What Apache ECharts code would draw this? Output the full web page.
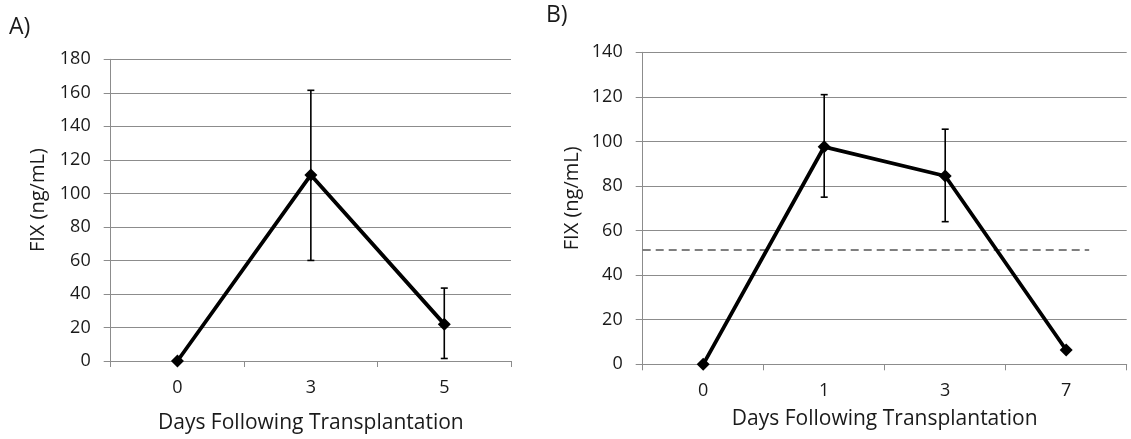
<!DOCTYPE html>
<html>
<head>
<meta charset="utf-8">
<script src="https://cdn.jsdelivr.net/npm/echarts@6/dist/echarts.min.js"></script>
<style>
  html, body { margin: 0; padding: 0; background: #fff; }
  #chart { width: 1131px; height: 439px; }
</style>
</head>
<body>
<div id="chart"></div>
<script>
// Panel A
const daysA = ["0", "3", "5"];
const fixA = [0, 111, 22];
const errLowA = [null, 60, 1.5];
const errHighA = [null, 161.5, 43.5];
const ticksA = { min: 0, max: 180, interval: 20 };

// Panel B
const daysB = ["0", "1", "3", "7"];
const fixB = [0, 97.6, 84.5, 6.4];
const errLowB = [null, 75, 64, null];
const errHighB = [null, 121, 105.5, null];
const ticksB = { min: 0, max: 140, interval: 20 };
// dashed reference level, from the axis to ~3.7 category bands
const thresholdB = 51.3;
const thresholdSpan = [0, 3.69];

const font = "Open Sans";
const textColor = "#1a1a1a";
const gridColor = "#8c8c8c";

const chart = echarts.init(document.getElementById("chart"));

function errData(lo, hi) {
  const out = [];
  lo.forEach((v, i) => {
    if (v !== null) out.push([i, v, hi[i]]);
  });
  return out;
}

function renderErr(params, api) {
  const x = api.value(0);
  const lo = api.coord([x, api.value(1)]);
  const hi = api.coord([x, api.value(2)]);
  const cap = 3.5;
  const style = { stroke: "#000", lineWidth: 1.6 };
  return {
    type: "group",
    children: [
      { type: "line", shape: { x1: lo[0], y1: lo[1], x2: hi[0], y2: hi[1] }, style },
      { type: "line", shape: { x1: hi[0] - cap, y1: hi[1], x2: hi[0] + cap, y2: hi[1] }, style },
      { type: "line", shape: { x1: lo[0] - cap, y1: lo[1], x2: lo[0] + cap, y2: lo[1] }, style },
    ],
  };
}

function catAxis(gridIndex, data, gap) {
  return {
    type: "category",
    gridIndex,
    data,
    boundaryGap: true,
    name: "Days Following Transplantation",
    nameLocation: "middle",
    nameGap: gap,
    nameTextStyle: { fontFamily: font, fontSize: 21, color: textColor },
    axisLine: { lineStyle: { color: gridColor, width: 1 } },
    axisTick: { show: true, length: 6, alignWithLabel: false, lineStyle: { color: gridColor } },
    axisLabel: { fontFamily: font, fontSize: 18, color: textColor, margin: 18 },
    splitLine: { show: false },
  };
}

function valAxis(gridIndex, t, gap) {
  return {
    type: "value",
    gridIndex,
    min: t.min,
    max: t.max,
    interval: t.interval,
    name: "FIX (ng/mL)",
    nameLocation: "middle",
    nameGap: gap,
    // nudge the title a little above the axis middle
    nameTextStyle: { fontFamily: font, fontSize: 20, color: textColor, padding: [0, 0, 0, 20] },
    axisLine: { show: true, lineStyle: { color: gridColor, width: 1 } },
    axisTick: { show: true, length: 7, lineStyle: { color: gridColor } },
    axisLabel: { fontFamily: font, fontSize: 18, color: textColor, margin: 20 },
    splitLine: { show: true, lineStyle: { color: gridColor, width: 1 } },
  };
}

const lineStyle = { color: "#000", width: 3.8 };
const itemStyle = { color: "#000" };

const option = {
  animation: false,
  backgroundColor: "#fff",
  grid: [
    { left: 110.7, right: 620, top: 59.3, bottom: 74.7 },
    { left: 642.7, right: 4.3, top: 52.3, bottom: 74.7 },
  ],
  graphic: [
    { type: "text", left: 9, top: 16, style: { text: "A)", fontFamily: font, fontSize: 23, fill: textColor } },
    { type: "text", left: 546, top: 4, style: { text: "B)", fontFamily: font, fontSize: 23, fill: textColor } },
  ],
  xAxis: [
    catAxis(0, daysA, 52),
    catAxis(1, daysB, 44),
    { type: "value", gridIndex: 1, min: 0, max: 4, show: false },
  ],
  yAxis: [valAxis(0, ticksA, 62), valAxis(1, ticksB, 60)],
  series: [
    {
      type: "line",
      xAxisIndex: 0,
      yAxisIndex: 0,
      data: fixA,
      lineStyle,
      itemStyle,
      symbol: "diamond",
      symbolSize: 13,
      z: 3,
    },
    {
      type: "custom",
      xAxisIndex: 0,
      yAxisIndex: 0,
      data: errData(errLowA, errHighA),
      renderItem: renderErr,
      z: 4,
    },
    {
      type: "line",
      xAxisIndex: 2,
      yAxisIndex: 1,
      data: thresholdSpan.map((x) => [x, thresholdB]),
      symbol: "none",
      lineStyle: { color: "#555", width: 1.5, type: [8, 5] },
      z: 2,
    },
    {
      type: "line",
      xAxisIndex: 1,
      yAxisIndex: 1,
      data: fixB,
      lineStyle,
      itemStyle,
      symbol: "diamond",
      symbolSize: 13,
      z: 3,
    },
    {
      type: "custom",
      xAxisIndex: 1,
      yAxisIndex: 1,
      data: errData(errLowB, errHighB),
      renderItem: renderErr,
      z: 4,
    },
  ],
};

chart.setOption(option);
</script>
</body>
</html>
